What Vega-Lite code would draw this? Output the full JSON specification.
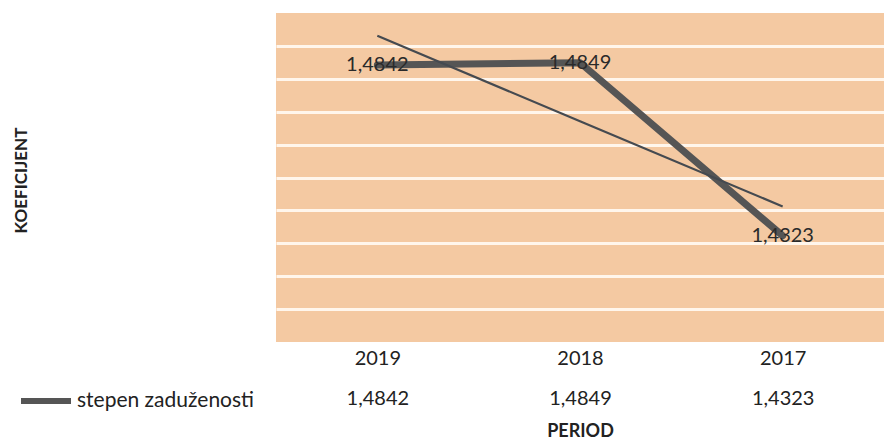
{
  "$schema": "https://vega.github.io/schema/vega-lite/v6.json",
  "autosize": {"type": "none"},
  "padding": {"left": 276, "top": 13, "right": 0, "bottom": 103},
  "width": 608,
  "height": 329,
  "background": "white",
  "config": {
    "view": {"fill": "#f4c9a2", "stroke": null},
    "font": "Lato",
    "axis": {"labelFont": "Lato", "titleFont": "Lato", "labelColor": "#222222", "titleColor": "#222222"}
  },
  "data": {
    "values": [
      {"period": "2019", "value": 1.4842, "label": "1,4842", "trend": 1.4931, "series": "stepen zaduženosti"},
      {"period": "2018", "value": 1.4849, "label": "1,4849", "trend": 1.4671, "series": "stepen zaduženosti"},
      {"period": "2017", "value": 1.4323, "label": "1,4323", "trend": 1.4412, "series": "stepen zaduženosti"}
    ]
  },
  "encoding": {
    "y": {
      "field": "value",
      "type": "quantitative",
      "scale": {"domain": [1.40, 1.50], "nice": false, "zero": false},
      "axis": {
        "values": [1.41, 1.42, 1.43, 1.44, 1.45, 1.46, 1.47, 1.48, 1.49],
        "grid": true, "gridColor": "#fff6ec", "gridWidth": 3, "gridOpacity": 1,
        "labels": false, "ticks": false, "domain": false,
        "title": "KOEFICIJENT", "titleFontSize": 17, "titleFontWeight": "bold",
        "titleAngle": -90, "titleX": -255, "titleY": 167, "titleAlign": "center", "titleBaseline": "middle"
      }
    }
  },
  "layer": [
    {
      "mark": {"type": "line", "strokeWidth": 7, "strokeCap": "round", "strokeJoin": "round"},
      "encoding": {
        "x": {
          "field": "period", "type": "nominal", "sort": null,
          "scale": {"type": "point", "padding": 0.5},
          "axis": {"title": null, "ticks": false, "domain": false, "labelAngle": 0, "labelFontSize": 20, "labelPadding": 6, "labelBaseline": "top"}
        },
        "stroke": {
          "field": "series", "type": "nominal",
          "scale": {"range": ["#555555"]},
          "legend": {
            "title": null, "orient": "none", "legendX": -258, "legendY": 360,
            "symbolType": "stroke", "symbolSize": 2500, "symbolStrokeWidth": 6,
            "labelFontSize": 21, "labelFont": "Lato", "labelColor": "#222222", "labelOffset": 3, "labelLimit": 0
          }
        }
      }
    },
    {
      "mark": {"type": "line", "strokeWidth": 2.2, "color": "#454a50"},
      "encoding": {
        "x": {"field": "period", "type": "nominal", "sort": null, "scale": {"type": "point", "padding": 0.5}, "axis": null},
        "y": {"field": "trend", "type": "quantitative"}
      }
    },
    {
      "mark": {"type": "text", "fontSize": 20, "font": "Lato", "color": "#2a2a2a", "baseline": "middle", "align": "center"},
      "encoding": {
        "x": {
          "field": "label", "type": "nominal", "sort": null,
          "scale": {"type": "point", "padding": 0.5},
          "axis": {
            "orient": "bottom", "offset": 40, "ticks": false, "domain": false, "labelAngle": 0,
            "labelFontSize": 20, "labelPadding": 6, "labelBaseline": "top",
            "title": "PERIOD", "titleFontSize": 18, "titleFontWeight": "bold", "titlePadding": 14
          }
        },
        "text": {"field": "label"}
      }
    }
  ],
  "resolve": {"scale": {"x": "independent"}}
}
